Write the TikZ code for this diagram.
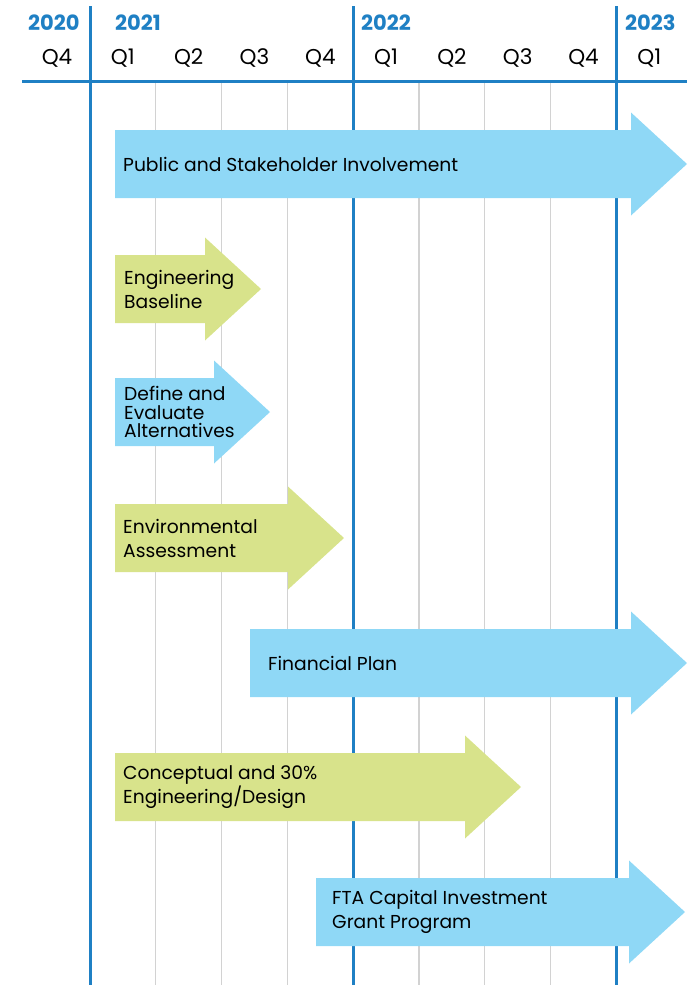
\documentclass[tikz,border=0pt]{standalone}
\usepackage{fontspec}
\setmainfont{Poppins}
\usetikzlibrary{positioning}
\definecolor{chartblue}{HTML}{1F80C4}
\definecolor{gridgrey}{HTML}{D2D2D2}
\definecolor{skyfill}{HTML}{8FD8F6}
\definecolor{limefill}{HTML}{D8E38B}
\tikzset{
  yearlabel/.style={
    font=\fontsize{21}{21}\selectfont\bfseries, text=chartblue,
    anchor=base west, inner sep=0pt
  },
  qlabel/.style={
    font=\fontsize{21.5}{21.5}\selectfont, anchor=base, inner sep=0pt
  },
  tasklabel/.style={
    font=\fontsize{18.7}{24}\selectfont, align=left,
    anchor=west, inner sep=0pt
  },
  yearline/.style={draw=chartblue, line width=3pt},
  qline/.style={draw=gridgrey, line width=1.2pt},
}
% fat arrow: shaft from #3 to #4 at height #5, head 56 long
\newcommand{\taskarrow}[5]{%
  \fill[#1] (#3,#5-34) -- (#4,#5-34) -- (#4,#5-51.5) -- (#4+56,#5)
    -- (#4,#5+51.5) -- (#4,#5+34) -- (#3,#5+34) -- cycle;
  \coordinate (#2) at (#3,#5);
}

\begin{document}
\begin{tikzpicture}[x=1pt, y=-1pt]
  \useasboundingbox (0,0) rectangle (690,985);

  % ── Quarter grid ────────────
  \foreach \k in {1,2,3,5,6,7}
    \draw[qline] (90+65.8*\k,81) -- (90+65.8*\k,985);
  \draw[yearline] (22,81) -- (687,81);
  \foreach \k in {0,4,8}
    \draw[yearline] (90+65.8*\k,6) -- (90+65.8*\k,985);

  % ── Years and quarters ─────
  \node[yearlabel] (y20) at (28,30) {2020};
  \node[yearlabel] (y21) at (115,30) {2021};
  \node[yearlabel] (y22) at (361,30) {2022};
  \node[yearlabel] (y23) at (625,30) {2023};
  \node[qlabel] (q0) at (57,64) {Q4};
  \foreach \q [count=\i from 0] in {Q1,Q2,Q3,Q4,Q1,Q2,Q3,Q4,Q1}
    \node[qlabel] (q\i) at (122.9+65.8*\i,64) {\q};

  % ── Tasks ───────────────────
  \taskarrow{skyfill}{pub}{115}{631}{164}
  \node[tasklabel, right=8pt of pub, anchor=west] (publbl)
    {Public and Stakeholder Involvement};

  \taskarrow{limefill}{eng}{115}{205}{289}
  \node[tasklabel, right=9pt of eng, anchor=west] (englbl)
    {Engineering\\Baseline};

  \taskarrow{skyfill}{alt}{115}{214}{412}
  \node[tasklabel, right=9pt of alt, anchor=west,
    font=\fontsize{18.7}{18.5}\selectfont] (altlbl)
    {Define and\\Evaluate\\Alternatives};

  \taskarrow{limefill}{env}{115}{288}{538}
  \node[tasklabel, right=8pt of env, anchor=west] (envlbl)
    {Environmental\\Assessment};

  \taskarrow{skyfill}{fin}{250}{631}{663}
  \node[tasklabel, right=18pt of fin, anchor=west] (finlbl)
    {Financial Plan};

  \taskarrow{limefill}{cpt}{115}{465}{787}
  \node[tasklabel, right=8pt of cpt, anchor=west] (cptlbl)
    {Conceptual and 30\%\\Engineering/Design};

  \taskarrow{skyfill}{fta}{316}{629}{912}
  \node[tasklabel, right=16pt of fta, anchor=west] (ftalbl)
    {FTA Capital Investment\\Grant Program};
\end{tikzpicture}
\end{document}
